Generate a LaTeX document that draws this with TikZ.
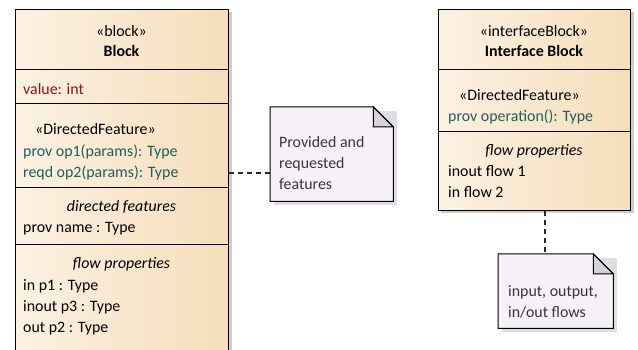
\documentclass[tikz,border=0pt]{standalone}
\usepackage{fontspec}
\setmainfont{Carlito}
\definecolor{blkL}{RGB}{252,241,226}
\definecolor{blkR}{RGB}{246,222,186}
\definecolor{valred}{RGB}{150,20,20}
\definecolor{teal}{RGB}{30,95,95}
\definecolor{noteC}{RGB}{245,241,246}
\definecolor{foldC}{RGB}{212,210,216}
\definecolor{shadC}{RGB}{205,205,205}
\definecolor{nshadC}{RGB}{222,222,226}
\definecolor{noteTxt}{RGB}{55,55,55}
\begin{document}
\begin{tikzpicture}[x=1pt,y=-1pt,
  font=\fontsize{15.9}{18}\selectfont,
  blockbox/.style={draw=black, line width=1.2pt, left color=blkL, right color=blkR, inner sep=0pt, anchor=north west},
  sepline/.style={draw=black, line width=1pt},
  txt/.style={inner sep=0pt, anchor=base west, text=black},
  ctxt/.style={inner sep=0pt, anchor=base, text=black},
  anchorbox/.style={inner sep=0pt, anchor=north west},
  noteline/.style={draw=black, line width=1pt, fill=noteC},
  ntxt/.style={inner sep=0pt, anchor=base west, text=noteTxt},
  conn/.style={draw={rgb,255:red,40;green,40;blue,40}, line width=1.4pt, dash pattern=on 5pt off 4pt},
  shadow/.style={fill=shadC},
  nshadow/.style={fill=nshadC}]
\useasboundingbox (0,0) rectangle (638,350);
\clip (0,0) rectangle (638,350);
% shadows
\fill[shadow] (228,12) rectangle (231.5,360);
\fill[shadow] (630,12) rectangle (633.5,213.5);
\fill[shadow] (441,210) rectangle (633.5,213.5);
% left block
\node[blockbox, minimum width=213pt, minimum height=360pt] (blk) at (15,9) {};
\draw[sepline] (blk.west |- 0,70) -- (blk.east |- 0,70);
\draw[sepline] (blk.west |- 0,104) -- (blk.east |- 0,104);
\draw[sepline] (blk.west |- 0,188) -- (blk.east |- 0,188);
\draw[sepline] (blk.west |- 0,245) -- (blk.east |- 0,245);
\node[ctxt] (bst) at (121.5,36.5) {«block»};
\node[ctxt, font=\fontsize{15.9}{18}\selectfont\bfseries] (bnm) at (121.5,57) {Block};
\node[txt, text=valred] (bval) at (23,94.5) {value: int};
\node[txt] (bdf) at (35,135) {«DirectedFeature»};
\node[txt, text=teal] (bop1) at (23,156.5) {prov op1(params): Type};
\node[txt, text=teal] (bop2) at (23,177.5) {reqd op2(params): Type};
\node[ctxt, font=\fontsize{15.9}{18}\selectfont\itshape] (bdft) at (121.5,211.5) {directed features};
\node[txt] (bpn) at (23,233) {prov name : Type};
\node[ctxt, font=\fontsize{15.9}{18}\selectfont\itshape] (bfpt) at (121.5,269) {flow properties};
\node[txt] (bp1) at (23,290.5) {in p1 : Type};
\node[txt] (bp3) at (23,311.5) {inout p3 : Type};
\node[txt] (bp2) at (23,332.5) {out p2 : Type};
% interface block
\node[blockbox, minimum width=192pt, minimum height=201pt] (ifb) at (438,9) {};
\draw[sepline] (ifb.west |- 0,70) -- (ifb.east |- 0,70);
\draw[sepline] (ifb.west |- 0,132) -- (ifb.east |- 0,132);
\node[ctxt] (ist) at (534,36.5) {«interfaceBlock»};
\node[ctxt, font=\fontsize{15.9}{18}\selectfont\bfseries] (inm) at (534,57) {Interface Block};
\node[txt] (idf) at (459,101) {«DirectedFeature»};
\node[txt, text=teal] (iop) at (448,121.5) {prov operation(): Type};
\node[ctxt, font=\fontsize{15.9}{18}\selectfont\itshape] (ifpt) at (534,156) {flow properties};
\node[txt] (if1) at (448,177) {inout flow 1};
\node[txt] (if2) at (448,198) {in flow 2};
% note 1
\node[anchorbox, minimum width=123pt, minimum height=94pt] (n1) at (270,107) {};
\fill[nshadow] ([xshift=4pt,yshift=-4pt]n1.north east) rectangle ([xshift=4pt,yshift=-4pt]n1.south west);
\path[noteline] (n1.north west) -- ([xshift=-20pt]n1.north east) -- ([yshift=-20pt]n1.north east) -- (n1.south east) -- (n1.south west) -- cycle;
\path[draw=black, line width=1pt, fill=foldC] ([xshift=-20pt]n1.north east) -- ([xshift=-20pt,yshift=-20pt]n1.north east) -- ([yshift=-20pt]n1.north east) -- cycle;
\node[ntxt] (n1a) at (279,148) {Provided and};
\node[ntxt] (n1b) at (279,168.5) {requested};
\node[ntxt] (n1c) at (279,189.5) {features};
% note 2
\node[anchorbox, minimum width=115pt, minimum height=74pt] (n2) at (498,254) {};
\fill[nshadow] ([xshift=4pt,yshift=-4pt]n2.north east) rectangle ([xshift=4pt,yshift=-4pt]n2.south west);
\path[noteline] (n2.north west) -- ([xshift=-20pt]n2.north east) -- ([yshift=-20pt]n2.north east) -- (n2.south east) -- (n2.south west) -- cycle;
\path[draw=black, line width=1pt, fill=foldC] ([xshift=-20pt]n2.north east) -- ([xshift=-20pt,yshift=-20pt]n2.north east) -- ([yshift=-20pt]n2.north east) -- cycle;
\node[ntxt] (n2a) at (508,297) {input, output,};
\node[ntxt] (n2b) at (508,317.5) {in/out flows};
% connectors
\coordinate (j1) at (0,173);
\coordinate (j2) at (545,0);
\draw[conn] (blk.east |- j1) -- (n1.west |- j1);
\draw[conn] (ifb.south -| j2) -- (n2.north -| j2);
\end{tikzpicture}
\end{document}
